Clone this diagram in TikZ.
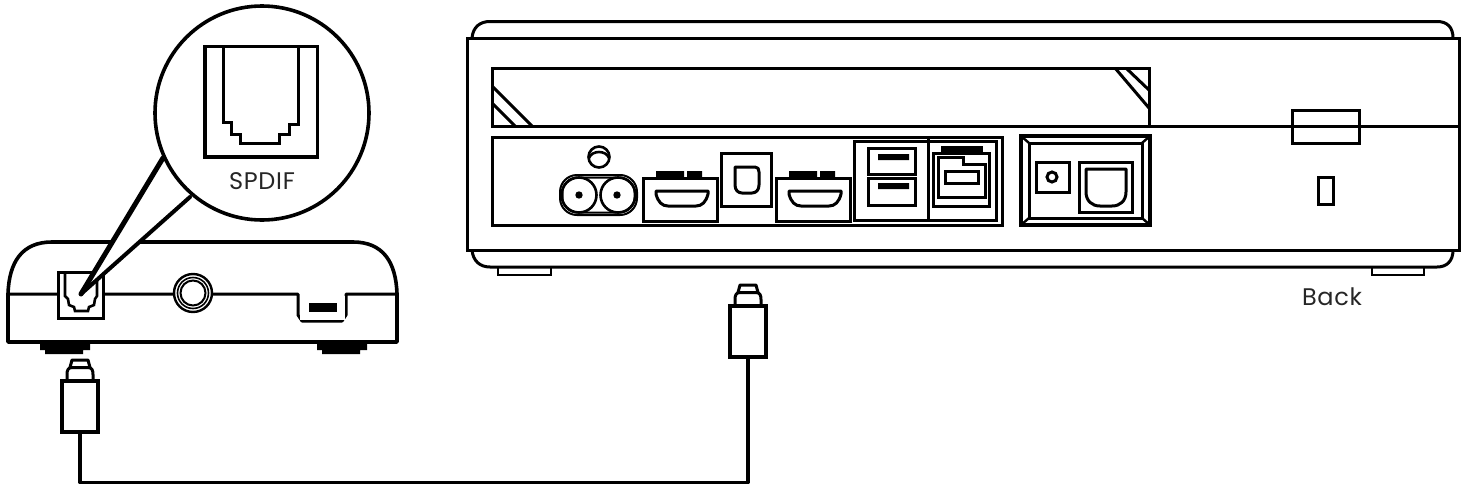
\documentclass[tikz,border=0pt]{standalone}
\usepackage{fontspec}
\setmainfont[LetterSpace=3]{Poppins}
\tikzset{
  ln/.style={draw=black,line width=3pt,line join=miter},
  thk/.style={draw=black,line width=3.6pt,line join=miter},
  thn/.style={draw=black,line width=2.4pt},
  blk/.style={fill=black,draw=none},
  lbl/.style={font=\fontsize{24}{26}\selectfont,inner sep=0pt,text=black!85},
  plugbody/.style={draw=black,line width=3.6pt,fill=white,inner sep=0pt,outer sep=0pt,minimum width=36pt,minimum height=51pt},
  wire/.style={draw=black,line width=3.6pt,line join=round},
  callout/.style={circle,draw=black,line width=3.6pt,fill=white,inner sep=0pt,outer sep=0pt,minimum size=214pt},
}
\newcommand{\plugat}[3]{% name, x, y of body centre
  \draw[ln,line width=3pt,line join=round] (#2-10,#3-39) -- (#2-8,#3-46.5) -- (#2+8,#3-46.5) -- (#2+10,#3-39);
  \draw[ln,line width=3pt,line join=round] (#2-13,#3-25) -- (#2-13,#3-32) .. controls (#2-13,#3-36) and (#2-12,#3-39) .. (#2-8,#3-39) -- (#2+8,#3-39) .. controls (#2+12,#3-39) and (#2+13,#3-36) .. (#2+13,#3-32) -- (#2+13,#3-25);
  \node[plugbody] (#1) at (#2,#3) {};
}
\newcommand{\hdmiat}[1]{%
  \begin{scope}[shift={(#1,0)}]
  \draw[ln] (643,178) rectangle (717,221);
  \fill[blk] (656,171) rectangle (684,178) (687,171) rectangle (702,178);
  \draw[ln,line join=round] (656,191) -- (708,191) -- (708,194) .. controls (706,202) and (702,206) .. (696,206) -- (668,206) .. controls (662,206) and (658,202) .. (656,194) -- cycle;
  \end{scope}}
\begin{document}
\begin{tikzpicture}[x=1pt,y=-1pt]
\useasboundingbox (0,0) rectangle (1465,490);
\fill[white] (0,0) rectangle (1465,490);

% ---------- small device
\draw[thk,line join=round] (8,294) .. controls (9,262) and (22,242) .. (52,242) -- (353,242) .. controls (383,242) and (396,262) .. (397,294) -- (397,342) -- (8,342) -- cycle;
\draw[ln,line width=3pt,line join=round] (8,294) -- (298,294) -- (298,315) -- (302,321) -- (342,321) -- (346,315) -- (346,294) -- (397,294);
\fill[white] (299.5,295.5) rectangle (344.5,319.5);
\fill[blk] (309,303) rectangle (337,312);
\fill[blk] (40,343) rectangle (90,350) (45,350) rectangle (83,354);
\fill[blk] (317,343) rectangle (367,350) (322,350) rectangle (360,354);
% small socket
\draw[ln,fill=white] (58,272) rectangle (103,318);
\draw[ln,line width=2.6pt] (65,272) -- (65,296) -- (68,299) -- (69,305) -- (74,307) -- (75,311) -- (88,311) -- (89,307) -- (94,305) -- (95,299) -- (97,296) -- (97,272);
% jack
\draw[draw=black,line width=2.4pt,fill=white] (193,293) circle (19);
\draw[draw=black,line width=1.6pt] (193,293) circle (15.5);
\draw[draw=black,line width=2pt] (193,293) circle (12.5);

% ---------- callout
\coordinate (tip) at (81,294);
\fill[white] (tip) -- (163,158) -- (190,197) -- cycle;
\draw[draw=black,line width=5pt,line join=round,line cap=round] (163,158) -- (tip);
\draw[draw=black,line width=4pt,line join=round,line cap=round] (tip) -- (190,197);
\node[callout] (zoomc) at (262,113) {};
\draw[thk] (205,46.5) rectangle (317.5,157);
\draw[ln] (223,46.5) -- (223,122.5) -- (231,122.5) -- (231,134) -- (240,134) -- (240,143) -- (279,143) -- (279,134) -- (289,134) -- (289,124) -- (298,124) -- (298,46.5);
\node[lbl] (spdif) at (262,181) {SPDIF};

% ---------- plugs and wire
\plugat{plugA}{80}{406.5}
\plugat{plugB}{748}{331.5}
\coordinate (wirecorner) at (414,482.5);
\draw[wire] (plugA.south) |- (wirecorner) -| (plugB.south);

% ---------- large device
\draw[ln] (472,38) .. controls (473,27) and (480,21.5) .. (490,21.5) -- (1437,21.5) .. controls (1447,21.5) and (1453,27) .. (1453,38);
\draw[ln] (1453,250) .. controls (1453,261) and (1447,267) .. (1437,267) -- (490,267) .. controls (480,267) and (473,261) .. (472,250);
\draw[thn,line width=2.6pt] (1372,267) rectangle (1424,275);
\draw[thn,line width=2.6pt] (498,267) rectangle (551,275);
\draw[thk,line width=3pt,fill=white] (467,38) rectangle (1459,250);
% upper slot
\draw[ln] (492,68) rectangle (1149,126.5);
\draw[thn,line width=2.6pt] (1149,126.5) -- (1459,126.5);
\draw[ln] (492,86) -- (532,126);
\draw[ln] (492,103) -- (515,126);
\draw[ln] (1115,68) -- (1149,108);
\draw[ln] (1127,69) -- (1149,90);
% right side
\draw[ln] (1292,110) rectangle (1359,143);
\draw[ln] (1318,177) rectangle (1333,204);
\node[lbl] (back) at (1332,297) {Back};
% lower panel
\draw[ln] (492,137) rectangle (1002,225);
% coax
\draw[ln,line width=2pt,rounded corners=17pt] (560,175) rectangle (637,215);
\draw[ln,line width=2pt,rounded corners=15pt] (562.5,177.5) rectangle (634.5,212.5);
\draw[ln,line width=2.6pt] (579,195) circle (17.5);
\draw[ln,line width=2.6pt] (618,195) circle (17.5);
\fill[blk] (579,195) circle (3.7) (617,195) circle (3.7);
\draw[ln,line width=2.6pt] (599,157) circle (10.5);
\draw[ln,line width=2.6pt] (589,158) .. controls (592,150) and (606,150) .. (609,158);
% hdmi and mini optical
\hdmiat{0}
\hdmiat{133}
\draw[ln] (721,153) rectangle (771,206);
\draw[ln,line join=round] (735,167) -- (755,167) .. controls (758,167) and (759,169) .. (759,172) -- (759,185) .. controls (759,190) and (756,193) .. (752,193) -- (742,193) .. controls (738,193) and (735,190) .. (735,185) -- cycle;
% usb panel
\draw[ln] (854,141) rectangle (996,220);
\draw[ln] (928,139) -- (928,222);
\draw[ln] (868,148) rectangle (915,174);
\draw[ln] (868,178) rectangle (915,205);
\fill[blk] (878,154) rectangle (909,160) (878,183) rectangle (909,189);
\fill[blk] (941,146) rectangle (983,153);
\draw[ln] (933,153) rectangle (989,206);
\draw[ln] (938,157) -- (963,157) -- (963,164) -- (985,164) -- (985,197) -- (938,197) -- cycle;
\draw[ln,line width=3pt] (945,171) rectangle (978,183);
% right panel
\draw[thk] (1021,136) rectangle (1150,225);
\draw[ln] (1029,143) rectangle (1142,218);
\draw[thn] (1021,136) -- (1029,143) (1150,136) -- (1142,143) (1021,225) -- (1029,218) (1150,225) -- (1142,218);
\draw[ln] (1036,162) rectangle (1069,192);
\draw[ln] (1052,177) circle (5);
\draw[ln] (1079,162) rectangle (1132,212);
\draw[ln,line join=round] (1086,169) -- (1126,169) -- (1126,192) .. controls (1126,201) and (1120,206) .. (1112,206) -- (1100,206) .. controls (1092,206) and (1086,201) .. (1086,192) -- cycle;
\end{tikzpicture}
\end{document}
